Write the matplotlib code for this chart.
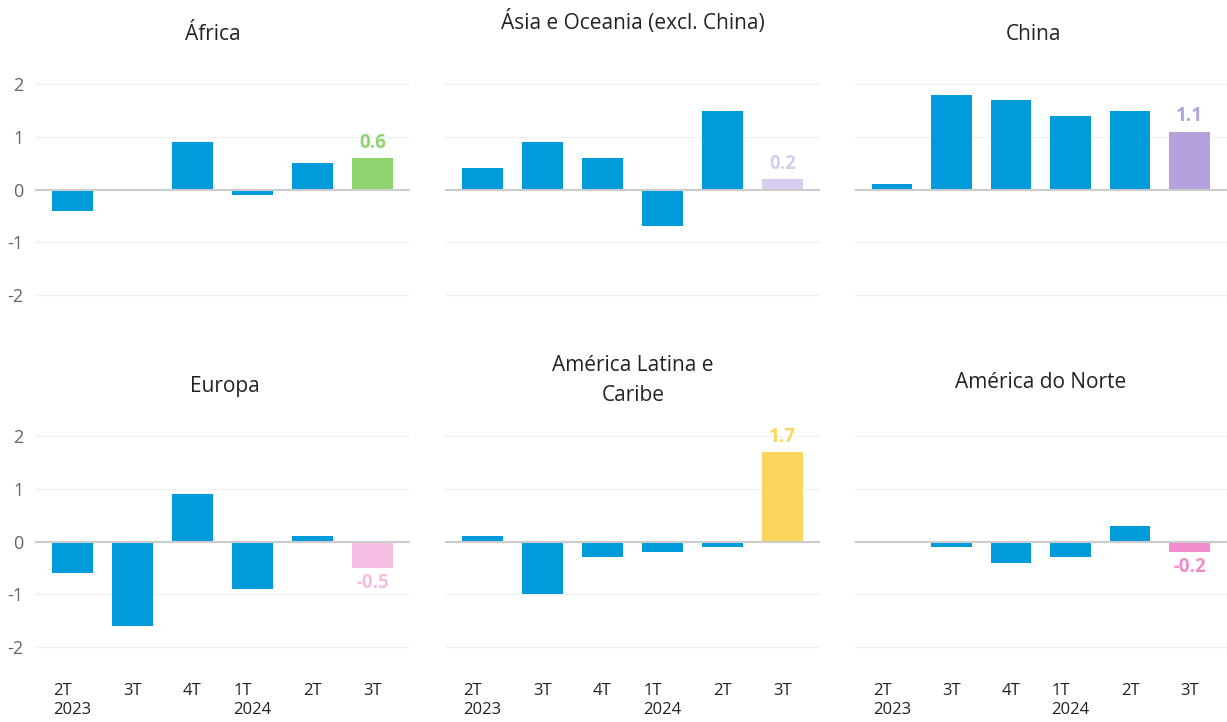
import numpy as np
import matplotlib.pyplot as plt

plt.rcParams['font.family'] = ['Open Sans', 'DejaVu Sans']

quarters = ['2T\n2023', '3T', '4T', '1T\n2024', '2T', '3T']

regions = ['África', 'Ásia e Oceania (excl. China)', 'China',
           'Europa', 'América Latina e\nCaribe', 'América do Norte']
africa = [-0.4, 0.0, 0.9, -0.1, 0.5, 0.6]
asia = [0.4, 0.9, 0.6, -0.7, 1.5, 0.2]
china = [0.1, 1.8, 1.7, 1.4, 1.5, 1.1]
europa = [-0.6, -1.6, 0.9, -0.9, 0.1, -0.5]
latam = [0.1, -1.0, -0.3, -0.2, -0.1, 1.7]
norte = [0.0, -0.1, -0.4, -0.3, 0.3, -0.2]
series = [africa, asia, china, europa, latam, norte]

blue = '#009bdb'
last_colors = ['#8fd46f', '#d8cdee', '#b5a2dc', '#f6bde2', '#fcd65c', '#ef8dcd']

# axes boxes in figure fractions
lefts = [0.0285, 0.3627, 0.697]
width = 0.306
bottoms = [0.577, 0.0893]
height = 0.321
title_x = [[-0.008, 0.0, -0.008], [0.002, 0.0, -0.002]]
title_y = [[0.952, 0.97, 0.952], [0.465, 0.473, 0.47]]

fig = plt.figure(figsize=(12.27, 7.22), dpi=100, facecolor='white')
x = np.arange(len(quarters))

for i, (name, vals) in enumerate(zip(regions, series)):
    row, col = divmod(i, 3)
    ax = fig.add_axes((lefts[col], bottoms[row], width if col < 2 else 0.303, height))
    colors = [blue] * 5 + [last_colors[i]]
    ax.bar(x, vals, width=0.68, color=colors, edgecolor='none', zorder=2)
    ax.set_xlim(-0.62, 5.63)
    ax.set_ylim(-2.2, 2.2)
    ax.set_yticks([-2, -1, 0, 1, 2])
    for yv in [-2, -1, 1, 2]:
        ax.axhline(yv, color='#f1f1f1', lw=1, zorder=0)
    ax.axhline(0, color='#cccccc', lw=1.5, zorder=3)
    for s in ax.spines.values():
        s.set_visible(False)
    ax.tick_params(length=0)
    if col == 0:
        ax.set_yticklabels(['-2', '-1', '0', '1', '2'], color='#666666', fontsize=13)
        ax.tick_params(axis='y', pad=8)
    else:
        ax.set_yticklabels([])
    if row == 1:
        ax.set_xticks(x)
        ax.set_xticklabels(quarters, fontsize=12, color='#222222',
                           multialignment='left', linespacing=1.3)
        ax.tick_params(axis='x', pad=18)
    else:
        ax.set_xticks([])
    last = vals[-1]
    off = 0.1 if last >= 0 else -0.1
    ax.text(x[-1], last + off, f'{last:.1f}', ha='center',
            va='bottom' if last >= 0 else 'top', fontsize=13.5,
            fontweight='bold', color=last_colors[i])
    cx = lefts[col] + width / 2 + title_x[row][col]
    fig.text(cx, title_y[row][col], name, ha='center', va='center',
             fontsize=15, color='#222222', linespacing=1.55)

fig.savefig('out.png', dpi=100, facecolor='white')
